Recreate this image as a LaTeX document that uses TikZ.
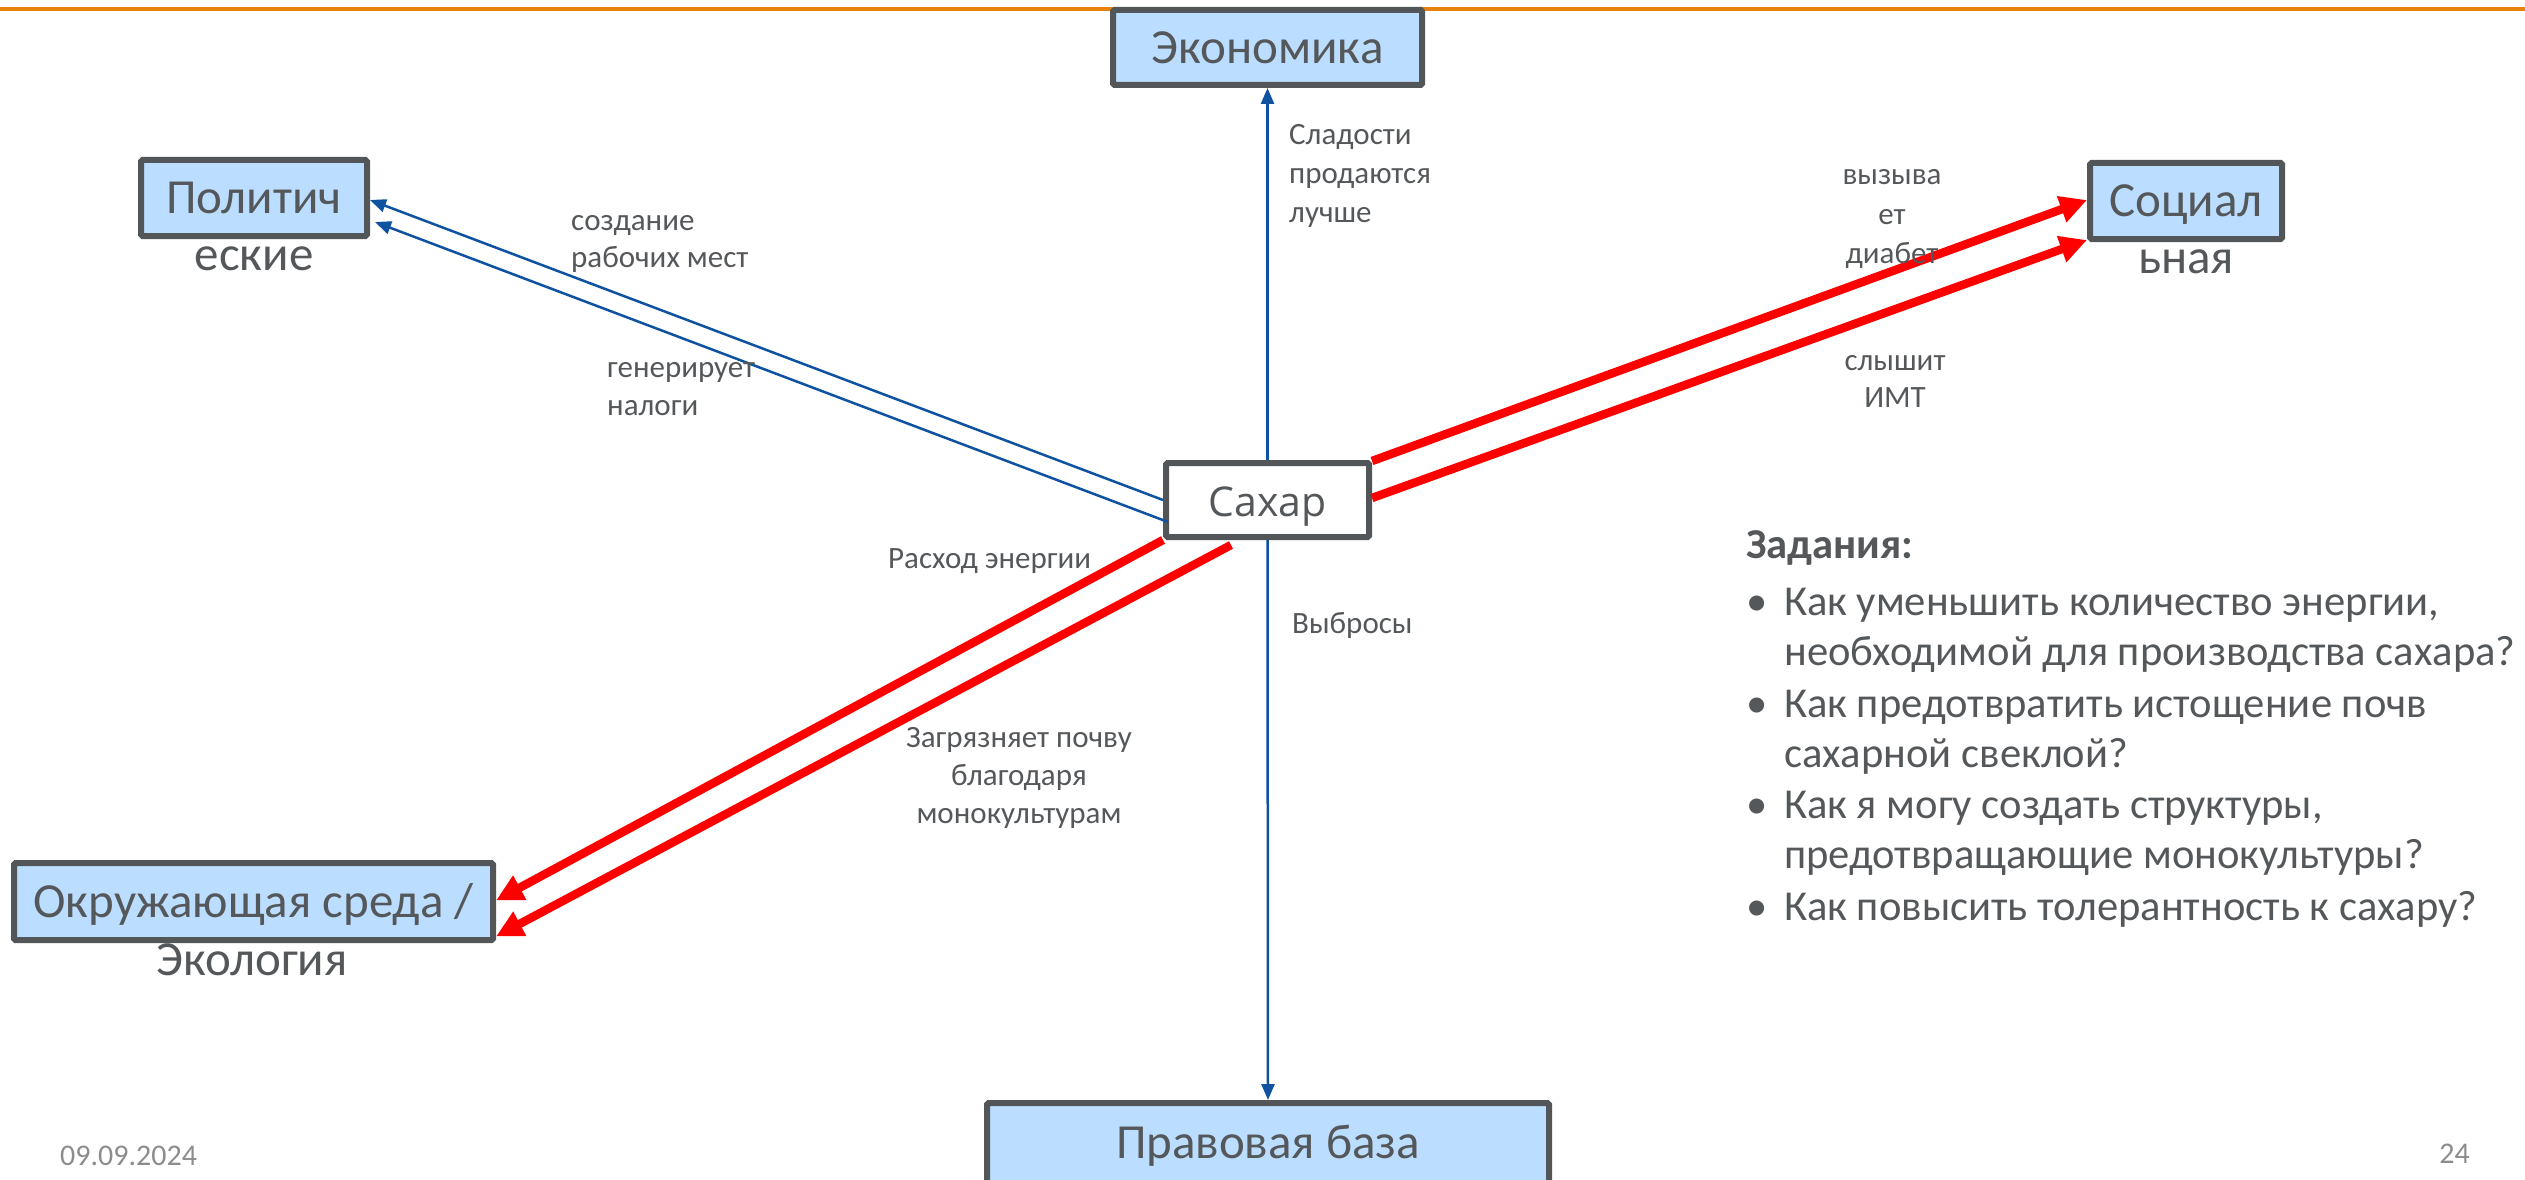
\documentclass[tikz,border=0pt]{standalone}
\usepackage{fontspec}
\setmainfont{Carlito}
\newfontfamily\sakhfont{Open Sans}
\usetikzlibrary{arrows.meta,calc}
\definecolor{boxgray}{RGB}{82,86,89}
\definecolor{boxblue}{RGB}{187,221,255}
\definecolor{txtgray}{RGB}{85,88,90}
\definecolor{arrblue}{RGB}{14,82,160}
\definecolor{arrred}{RGB}{255,0,0}
\definecolor{topline}{RGB}{232,130,12}
\definecolor{footgray}{RGB}{140,140,140}
\tikzset{
  box/.style={draw=boxgray, line width=6pt, fill=boxblue, rounded corners=1.5pt,
    inner sep=0pt, text=txtgray, font=\fontsize{49}{59}\selectfont,
    text height=31.5pt, text depth=0pt},
  boxrest/.style={anchor=base, inner sep=0pt, text=txtgray, font=\fontsize{49}{59}\selectfont},
  lab/.style={inner sep=0pt, text=txtgray, font=\fontsize{31}{38}\selectfont},
  task/.style={anchor=base west, inner sep=0pt, text=txtgray, font=\fontsize{42.6}{50}\selectfont},
  bluearr/.style={draw=arrblue, line width=2.5pt, -{Triangle[length=16pt,width=13pt]}},
  redarr/.style={draw=arrred, line width=8.5pt, -{Triangle[length=27pt,width=26pt]}},
}
\begin{document}
\begin{tikzpicture}[x=1pt,y=-1pt]
\useasboundingbox (0,0) rectangle (2525,1180);
\clip (0,0) rectangle (2525,1180);
% top rule
\coordinate (tl) at (0,9);
\coordinate (tr) at (2525,9);
\draw[topline, line width=3.5pt] (tl) -- (tr);

% boxes
\node[box, minimum width=309pt, minimum height=75pt] (eco) at (1267.5,47.5) {Экономика};
\node[box, minimum width=226pt, minimum height=76pt] (pol) at (254,198) {Политич};
\node[boxrest] (pol2) at (254,270) {еские};
\node[box, minimum width=192pt, minimum height=76pt] (soc) at (2186,201) {Социал};
\node[boxrest] (soc2) at (2186,273) {ьная};
\node[box, minimum width=479pt, minimum height=77pt] (env) at (253.5,901.5) {Окружающая среда /};
\node[boxrest] (env2) at (252,975) {Экология};
\node[box, minimum width=562pt, minimum height=80pt] (law) at (1268,1143) {Правовая база};
\node[box, fill=white, minimum width=203pt, minimum height=74pt, text height=0pt] (sugar) at (1267.5,500) {};
\node[inner sep=0pt, anchor=base, text=txtgray, font=\sakhfont\fontsize{41}{50}\selectfont] (sugart) at (1267.5,516) {Сахар};

% connectors
\draw[bluearr] (sugar.west) -- ($(pol.east)+(0,2)$);
\draw[bluearr] ($(sugar.west)+(5,22)$) -- ($(pol.east)+(5,24)$);
\draw[bluearr] (sugar.north) -- (eco.south);
\draw[bluearr] (sugar.south) -- (law.north);
\draw[redarr] ($(sugar.east)+(0,-39)$) -- ($(soc.west)+(0,-1)$);
\draw[redarr] ($(sugar.east)+(0,-2)$) -- ($(soc.south west)+(0,-2)$);
\draw[redarr] (sugar.south west) -- ($(env.east)+(0,-1)$);
\draw[redarr] ($(sugar.south west)+(68,5)$) -- ($(env.east)+(0,35)$);

% edge labels
\node[lab, anchor=base west] (l1a) at (571,230) {создание};
\node[lab, anchor=base west] (l1b) at (571,267) {рабочих мест};
\node[lab, anchor=base west] (l2a) at (607,377) {генерирует};
\node[lab, anchor=base west] (l2b) at (607,415) {налоги};
\node[lab, anchor=base west] (l3a) at (1289,145) {Сладости};
\node[lab, anchor=base west] (l3b) at (1289,183) {продаются};
\node[lab, anchor=base west] (l3c) at (1289,222) {лучше};
\node[lab, anchor=base] (l4a) at (1892,185) {вызыва};
\node[lab, anchor=base] (l4b) at (1892,224) {ет};
\node[lab, anchor=base] (l4c) at (1892,263) {диабет};
\node[lab, anchor=base] (l5a) at (1895,370) {слышит};
\node[lab, anchor=base] (l5b) at (1895,407) {ИМТ};
\node[lab, anchor=base west] (l6) at (888,568) {Расход энергии};
\node[lab, anchor=base west] (l7) at (1292,633) {Выбросы};
\node[lab, anchor=base] (l8a) at (1019,747) {Загрязняет почву};
\node[lab, anchor=base] (l8b) at (1019,785) {благодаря};
\node[lab, anchor=base] (l8c) at (1019,823) {монокультурам};

% tasks
\node[task, font=\bfseries\fontsize{42.6}{50}\selectfont] (t0) at (1746,558) {Задания:};
\node[task] (b1) at (1746,615) {•};
\node[task] (t1) at (1784,615) {Как уменьшить количество энергии,};
\node[task] (t1b) at (1784,665) {необходимой для производства сахара?};
\node[task] (b2) at (1746,717) {•};
\node[task] (t2) at (1784,717) {Как предотвратить истощение почв};
\node[task] (t2b) at (1784,767) {сахарной свеклой?};
\node[task] (b3) at (1746,818) {•};
\node[task] (t3) at (1784,818) {Как я могу создать структуры,};
\node[task] (t3b) at (1784,868) {предотвращающие монокультуры?};
\node[task] (b4) at (1746,920) {•};
\node[task] (t4) at (1784,920) {Как повысить толерантность к сахару?};

% footer
\node[inner sep=0pt, anchor=base west, text=footgray, font=\fontsize{30}{36}\selectfont] (date) at (60,1165) {09.09.2024};
\node[inner sep=0pt, anchor=base east, text=footgray, font=\fontsize{30}{36}\selectfont] (pg) at (2470,1163) {24};
\end{tikzpicture}
\end{document}
